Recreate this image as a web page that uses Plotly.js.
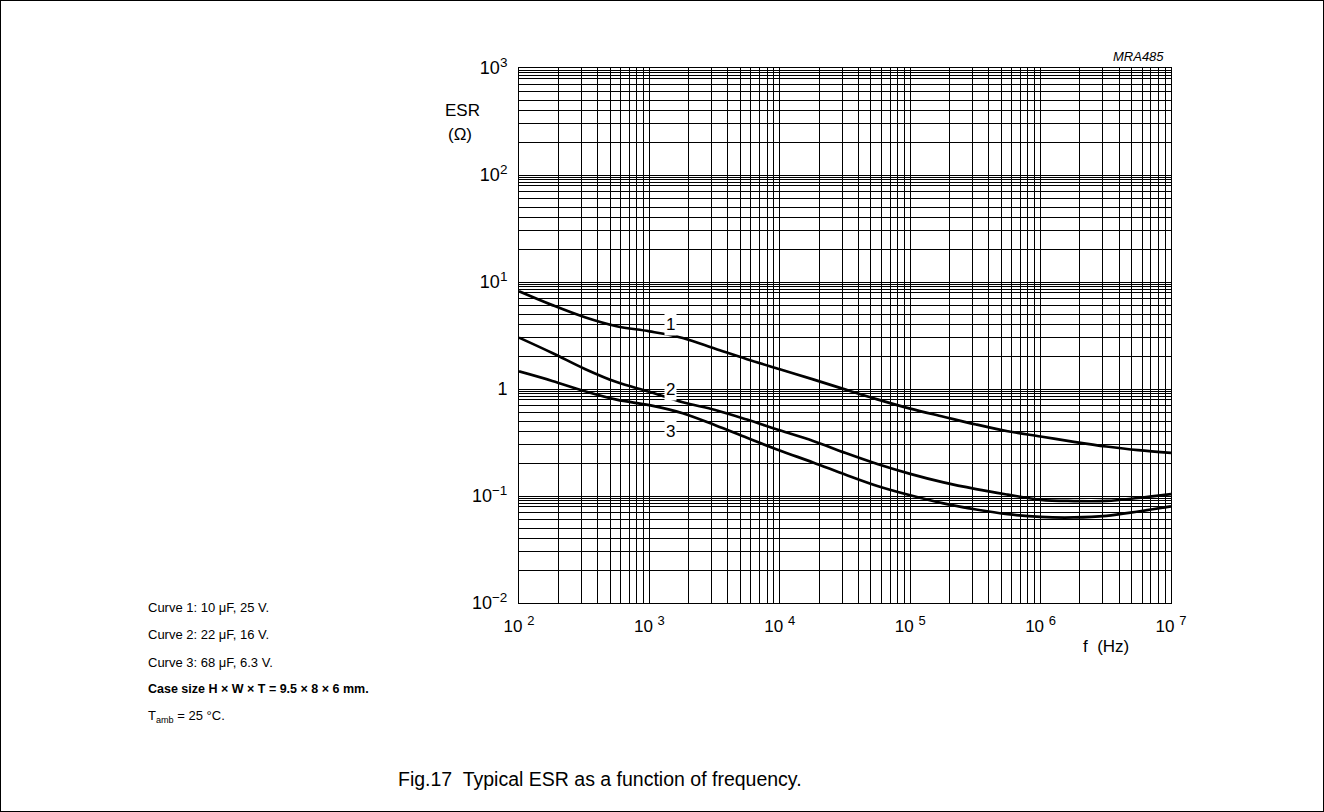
<!DOCTYPE html>
<html>
<head>
<meta charset="utf-8">
<script src="https://cdn.plot.ly/plotly-3.0.1.min.js"></script>
<style>
html,body{margin:0;padding:0;background:#fff;}
#wrap{width:1324px;height:812px;box-sizing:border-box;border:1px solid #000;}
#chart{width:1322px;height:810px;}
</style>
</head>
<body>
<div id="wrap"><div id="chart"></div></div>
<script>
// ---- data ----
const freqHz = [100, 180, 320, 560, 1000, 1800, 3200, 5600, 10000, 18000, 32000, 56000,
                1e5, 1.8e5, 3.2e5, 5.6e5, 1e6, 1.8e6, 3.2e6, 5.6e6, 1e7];
const esrCurve1 = [8.19, 6.08, 4.68, 3.86, 3.46, 3.0, 2.38, 1.90, 1.53, 1.23, 0.986, 0.80,
                   0.655, 0.551, 0.466, 0.403, 0.360, 0.321, 0.290, 0.268, 0.253];
const esrCurve2 = [3.02, 2.17, 1.54, 1.16, 0.942, 0.752, 0.637, 0.518, 0.411, 0.327, 0.252, 0.199,
                   0.161, 0.134, 0.116, 0.103, 0.092, 0.0897, 0.0899, 0.0958, 0.104];
const esrCurve3 = [1.46, 1.19, 0.953, 0.795, 0.706, 0.593, 0.458, 0.350, 0.266, 0.206, 0.158, 0.124,
                   0.1015, 0.0853, 0.0748, 0.0676, 0.0637, 0.0630, 0.0652, 0.0716, 0.080];
const curveNames = ["1", "2", "3"];
const xTickVals = [1e2, 1e3, 1e4, 1e5, 1e6, 1e7];
const xTickExp = ["2", "3", "4", "5", "6", "7"];
const yTickVals = [1e-2, 1e-1, 1, 10, 100, 1000];
const yTickExp = ["\u22122", "\u22121", "", "1", "2", "3"];
const noteLines = [
  "Curve 1: 10 \u03bcF, 25 V.",
  "Curve 2: 22 \u03bcF, 16 V.",
  "Curve 3: 68 \u03bcF, 6.3 V.",
  "<b>Case size H \u00d7 W \u00d7 T = 9.5 \u00d7 8 \u00d7 6 mm.</b>",
  "T<sub>amb</sub> = 25 \u00b0C."
];
const captionText = "Fig.17  Typical ESR as a function of frequency.";

// ---- tick label text ----
const sup = (e, s) => "<sup><span style='font-size:" + s + "px'>" + e + "</span></sup>";
const xTickText = xTickExp.map(e => "10 " + sup(e, 13));
const yTickText = yTickExp.map(e => e === "" ? "1" : "10" + sup(e, 13.5));

// ---- grid (chart-paper) positions ----
const xMinor = [];
for (let e = 2; e < 7; e++) for (let d = 2; d <= 9; d++) xMinor.push(d * Math.pow(10, e));
const yMinor = [];
const yMults = [2, 3, 4, 5, 6, 7, 8, 8.5, 9, 9.5];
for (let e = -2; e < 3; e++) for (const d of yMults) yMinor.push(d * Math.pow(10, e));

// ---- layout helpers (pixel -> paper) ----
const W = 1322, H = 810;
const M = {l: 518, r: 152, t: 67, b: 208};
const pw = W - M.l - M.r, ph = H - M.t - M.b;
const px = x => (x - 1 - M.l) / pw;
const py = y => 1 - (y - 1 - M.t) / ph;

const FONT = "Liberation Sans, Arial, Helvetica, sans-serif";
const lineStyle = {color: "#000", width: 2.7, shape: "spline", smoothing: 1};

const traces = [esrCurve1, esrCurve2, esrCurve3].map((ys, i) => ({
  x: freqHz, y: ys, type: "scatter", mode: "lines", name: "Curve " + curveNames[i],
  line: lineStyle, showlegend: false, hoverinfo: "x+y"
}));

const annotations = [];
const txt = (x, y, text, size, xanchor) => ({
  x: px(x), y: py(y), xref: "paper", yref: "paper", text: text, showarrow: false,
  xanchor: xanchor || "center", yanchor: "middle",
  font: {family: FONT, size: size, color: "#000"}
});
// curve labels
const labelY = [4, 1, 0.4];
curveNames.forEach((n, i) => {
  annotations.push({x: Math.log10(1450), y: Math.log10(labelY[i]), xref: "x", yref: "y",
    text: n, showarrow: false, bgcolor: "#fff", borderpad: 1, xanchor: "center", yanchor: "middle",
    font: {family: FONT, size: 17, color: "#000"}});
});
// axis titles
annotations.push(txt(462, 110, "ESR", 17));
annotations.push(txt(460, 134, "(\u03a9)", 17));
annotations.push(txt(1106, 646, "f  (Hz)", 17));
annotations.push(txt(1166, 57, "<i>MRA485</i>", 13, "right"));
// notes
const noteY = [607, 634, 662, 689, 716];
noteLines.forEach((t, i) => {
  annotations.push(txt(146, noteY[i], t, i === 3 ? 12.5 : 13, "left"));
});
annotations.push(txt(396, 779, captionText, 19.5, "left"));

const layout = {
  width: W, height: H,
  margin: M,
  paper_bgcolor: "#fff", plot_bgcolor: "#fff",
  font: {family: FONT, color: "#000", size: 17},
  showlegend: false,
  xaxis: {
    type: "log", range: [2, 7], tickmode: "array", tickvals: xTickVals, ticktext: xTickText,
    showgrid: true, gridcolor: "#000", gridwidth: 1, zeroline: false,
    showline: true, linecolor: "#000", linewidth: 1, mirror: true,
    ticks: "", ticklabelstandoff: 8, tickfont: {family: FONT, size: 17, color: "#000"},
    minor: {tickmode: "array", tickvals: xMinor, showgrid: true, gridcolor: "#000", gridwidth: 1, ticks: ""}
  },
  yaxis: {
    type: "log", range: [-2, 3], tickmode: "array", tickvals: yTickVals, ticktext: yTickText,
    showgrid: true, gridcolor: "#000", gridwidth: 1, zeroline: false,
    showline: true, linecolor: "#000", linewidth: 1, mirror: true,
    ticks: "", ticklabelstandoff: 7, tickfont: {family: FONT, size: 18, color: "#000"},
    minor: {tickmode: "array", tickvals: yMinor, showgrid: true, gridcolor: "#000", gridwidth: 1, ticks: ""}
  },
  annotations: annotations
};

Plotly.newPlot("chart", traces, layout, {displayModeBar: false, staticPlot: true});
</script>
</body>
</html>
